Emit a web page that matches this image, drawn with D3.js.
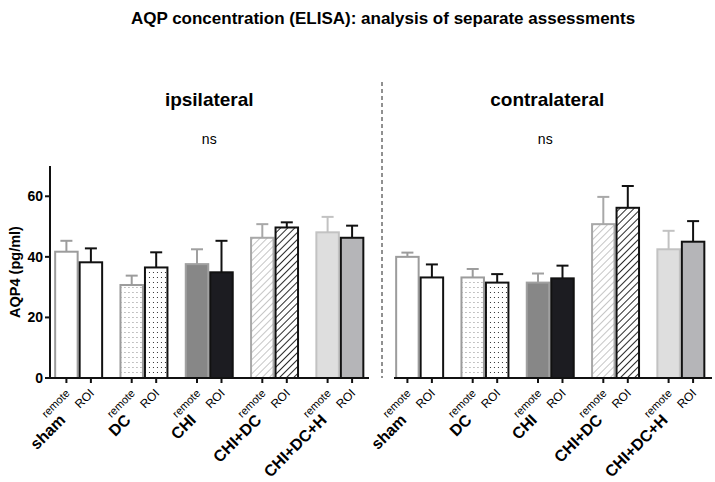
<!DOCTYPE html>
<html>
<head>
<meta charset="utf-8">
<script src="https://cdn.jsdelivr.net/npm/d3@7"></script>
<style>
  body { margin: 0; background: #fff; }
  svg { font-family: "Liberation Sans", Arial, sans-serif; }
</style>
</head>
<body>
<div id="chart"></div>
<script>
// chart data
const groups = ['sham', 'DC', 'CHI', 'CHI+DC', 'CHI+DC+H'];
const sides = ['remote', 'ROI'];
const panels = ['ipsilateral', 'contralateral'];

// mean values, [remote, ROI] per group
const ipsiMean = [[41.7, 38.2], [30.7, 36.5], [37.6, 34.9], [46.3, 49.7], [48.1, 46.3]];
const ipsiErr = [[45.3, 42.8], [33.8, 41.5], [42.5, 45.3], [50.8, 51.4], [53.2, 50.3]];
const contraMean = [[40.0, 33.2], [33.2, 31.5], [31.5, 32.9], [50.8, 56.2], [42.5, 45.0]];
const contraErr = [[41.4, 37.5], [36.0, 34.3], [34.5, 37.1], [59.8, 63.4], [48.6, 51.8]];
const yTicks = [0, 20, 40, 60];

const width = 715, height = 482;
const svg = d3.select('#chart').append('svg')
    .attr('width', width)
    .attr('height', height);

const defs = svg.append('defs');

// dotted fills
[['dotsGrey', '#8a8a8a'], ['dotsBlack', '#333']].forEach(p => {
    const pat = defs.append('pattern')
        .attr('id', p[0]).attr('patternUnits', 'userSpaceOnUse')
        .attr('width', 4).attr('height', 5);
    pat.append('rect').attr('width', 4).attr('height', 5).attr('fill', '#fff');
    pat.append('rect').attr('x', 1).attr('y', 2).attr('width', 1).attr('height', 1).attr('fill', p[1]);
});

// hatched fills
[['hatchGrey', '#a8a8a8', 1.3], ['hatchBlack', '#111', 1.8]].forEach(p => {
    const pat = defs.append('pattern')
        .attr('id', p[0]).attr('patternUnits', 'userSpaceOnUse')
        .attr('width', 5).attr('height', 5)
        .attr('patternTransform', 'rotate(45)');
    pat.append('rect').attr('width', 5).attr('height', 5).attr('fill', '#fff');
    pat.append('line').attr('x1', 0).attr('y1', 0).attr('x2', 0).attr('y2', 5)
        .attr('stroke', p[1]).attr('stroke-width', p[2]);
});

// fill / stroke per group and side
const fills = [
    ['#fff', '#fff'],
    ['url(#dotsGrey)', 'url(#dotsBlack)'],
    ['#878787', '#1c1c21'],
    ['url(#hatchGrey)', 'url(#hatchBlack)'],
    ['#dedede', '#b5b5b8']
];
const strokes = [
    ['#9c9c9c', '#111'],
    ['#9c9c9c', '#111'],
    ['#a0a0a0', '#111'],
    ['#a8a8a8', '#111'],
    ['#c2c2c2', '#111']
];

const y = d3.scaleLinear().domain([0, 70]).range([378, 166]);

const panelRanges = [[46, 372.5], [387, 713.5]];
const panelData = [[ipsiMean, ipsiErr], [contraMean, contraErr]];
const axisEnds = [[50, 369], [394, 712]];

// title
svg.append('text')
    .attr('x', 383).attr('y', 24)
    .attr('text-anchor', 'middle')
    .style('font-size', '17px').style('font-weight', 'bold')
    .text('AQP concentration (ELISA): analysis of separate assessments');

panels.forEach((panel, pi) => {
    const x0 = d3.scaleBand().domain(groups).range(panelRanges[pi])
        .paddingInner(0.25).paddingOuter(0.125);
    const x1 = d3.scaleBand().domain(sides).range([0, x0.bandwidth()]);
    const mean = panelData[pi][0];
    const err = panelData[pi][1];
    const g = svg.append('g');
    const mid = (panelRanges[pi][0] + panelRanges[pi][1]) / 2;

    g.append('text')
        .attr('x', mid + (pi ? -3 : 0)).attr('y', 106)
        .attr('text-anchor', 'middle')
        .style('font-size', '19px').style('font-weight', 'bold')
        .text(panel);

    g.append('text')
        .attr('x', mid + (pi ? -5 : 0)).attr('y', 144)
        .attr('text-anchor', 'middle')
        .style('font-size', '14px')
        .text('ns');

    const rows = [];
    groups.forEach((grp, gi) => {
        sides.forEach((s, si) => {
            rows.push({grp: grp, gi: gi, side: s, si: si, v: mean[gi][si], e: err[gi][si]});
        });
    });

    const bar = g.selectAll('g.bar')
        .data(rows)
        .join('g')
        .attr('class', 'bar')
        .attr('transform', d => 'translate(' + (x0(d.grp) + x1(d.side)) + ',0)');

    const bw = x1.bandwidth();

    // error bars first, bar drawn over
    bar.append('line')
        .attr('x1', bw / 2).attr('x2', bw / 2)
        .attr('y1', d => y(d.v)).attr('y2', d => y(d.e))
        .attr('stroke', d => strokes[d.gi][d.si]).attr('stroke-width', 2);
    bar.append('line')
        .attr('x1', bw / 2 - 6).attr('x2', bw / 2 + 6)
        .attr('y1', d => y(d.e)).attr('y2', d => y(d.e))
        .attr('stroke', d => strokes[d.gi][d.si]).attr('stroke-width', 2);

    bar.append('rect')
        .attr('x', 1).attr('width', bw - 2)
        .attr('y', d => y(d.v))
        .attr('height', d => y(0) - y(d.v))
        .attr('fill', d => fills[d.gi][d.si])
        .attr('stroke', d => strokes[d.gi][d.si])
        .attr('stroke-width', 2);

    // x axis line and ticks
    g.append('line')
        .attr('x1', axisEnds[pi][0]).attr('x2', axisEnds[pi][1])
        .attr('y1', y(0)).attr('y2', y(0))
        .attr('stroke', '#111').attr('stroke-width', 2);

    bar.append('line')
        .attr('x1', bw / 2).attr('x2', bw / 2)
        .attr('y1', y(0)).attr('y2', y(0) + 5)
        .attr('stroke', '#111').attr('stroke-width', 2);

    // side labels
    bar.append('text')
        .attr('transform', d => 'translate(' + (bw / 2 + 4) + ',' + (y(0) + 16) + ') rotate(-45)')
        .attr('text-anchor', 'end')
        .style('font-size', d => d.si ? '12px' : '11px')
        .text(d => d.side);

    // group labels
    g.selectAll('text.grp')
        .data(groups)
        .join('text')
        .attr('class', 'grp')
        .attr('transform', d => 'translate(' + (x0(d) + x1.bandwidth() / 2) + ',' + (y(0) + 43) + ') rotate(-45)')
        .attr('text-anchor', 'end')
        .style('font-size', '16px').style('font-weight', 'bold')
        .text(d => d);
});

// y axis
const yAxis = svg.append('g').attr('transform', 'translate(50,0)');
yAxis.append('line')
    .attr('x1', 0).attr('x2', 0)
    .attr('y1', y(0) + 1).attr('y2', y(70))
    .attr('stroke', '#111').attr('stroke-width', 2);
yAxis.selectAll('line.tick')
    .data(yTicks)
    .join('line')
    .attr('class', 'tick')
    .attr('x1', -5).attr('x2', 0)
    .attr('y1', d => y(d)).attr('y2', d => y(d))
    .attr('stroke', '#111').attr('stroke-width', 2);
yAxis.selectAll('text')
    .data(yTicks)
    .join('text')
    .attr('x', -7).attr('y', d => y(d))
    .attr('dy', '0.36em')
    .attr('text-anchor', 'end')
    .style('font-size', '14px').style('font-weight', 'bold')
    .text(d => d);

svg.append('text')
    .attr('transform', 'translate(20,' + y(35) + ') rotate(-90)')
    .attr('text-anchor', 'middle')
    .style('font-size', '14.5px').style('font-weight', 'bold')
    .text('AQP4 (pg/ml)');

// divider
svg.append('line')
    .attr('x1', 382).attr('x2', 382)
    .attr('y1', 82).attr('y2', y(0))
    .attr('stroke', '#222').attr('stroke-width', 1)
    .attr('stroke-dasharray', '4,3');
</script>
</body>
</html>
